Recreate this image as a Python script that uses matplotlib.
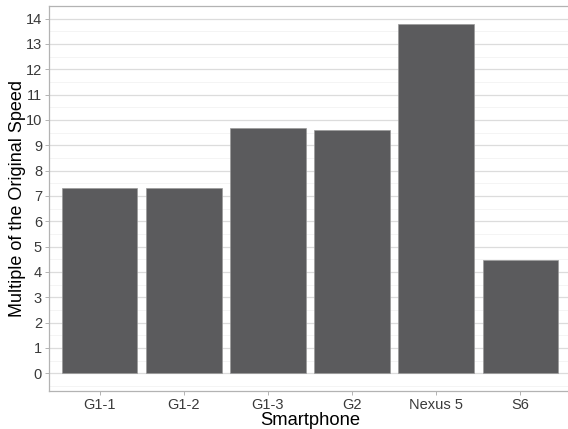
import matplotlib
matplotlib.use('Agg')
import matplotlib.pyplot as plt
import numpy as np

phones = ['G1-1', 'G1-2', 'G1-3', 'G2', 'Nexus 5', 'S6']
speedup = [7.31, 7.31, 9.69, 9.61, 13.78, 4.47]

plt.rcParams['font.family'] = ['Liberation Sans', 'DejaVu Sans']

fig = plt.figure(figsize=(5.68, 4.29), dpi=100)
ax = fig.add_axes([49 / 568, 38.3 / 429, 522 / 568, 384.7 / 429])

x = np.arange(1, len(phones) + 1)
ax.bar(x, speedup, 0.9, color='#5b5b5d', edgecolor='#9a9a9a', linewidth=0.5, zorder=3)

ymax = max(speedup)
ax.set_ylim(-0.05 * ymax, ymax * 1.05)
ax.set_xlim(0.4, len(phones) + 0.6)
ax.set_yticks(range(0, 15))
ax.set_yticks(np.arange(-0.5, 14.6, 1), minor=True)
ax.set_xticks(x)
ax.set_xticklabels(phones)

ax.grid(axis='y', which='major', color='#dcdcdc', linewidth=0.9, zorder=0)
ax.grid(axis='y', which='minor', color='#f2f2f2', linewidth=0.6, zorder=0)
ax.tick_params(axis='both', which='major', length=3, width=0.7, color='#b3b3b3',
               labelcolor='#3a3a3a', labelsize=10.5, pad=2)
ax.tick_params(axis='y', which='minor', length=0)
for s in ax.spines.values():
    s.set_color('#b3b3b3')
    s.set_linewidth(0.9)
ax.spines['right'].set_visible(False)

ax.set_xlabel('Smartphone', fontsize=13.2, labelpad=0)
ax.set_ylabel('Multiple of the Original Speed', fontsize=13, labelpad=0)

fig.savefig('out.png', dpi=100)
